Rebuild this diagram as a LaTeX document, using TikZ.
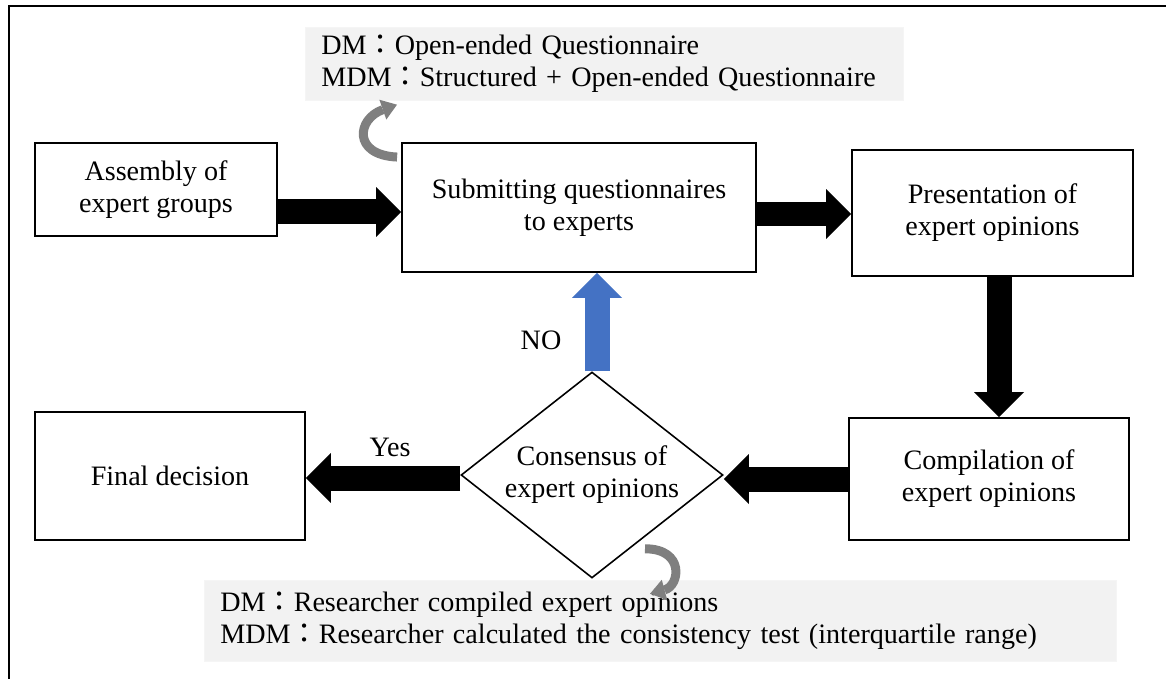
\documentclass[tikz,border=0pt]{standalone}
\usepackage{fontspec}
\setmainfont{Liberation Serif}
\newfontfamily\cjk{Noto Sans CJK TC}
\usetikzlibrary{positioning,shapes.geometric,arrows.meta}

\definecolor{notegray}{HTML}{F2F2F2}
\definecolor{noblue}{HTML}{4472C4}
\definecolor{curlgray}{HTML}{7F7F7F}
\newcommand{\fwcolon}{{\cjk ：}}

\tikzset{
  stage/.style={draw, line width=1.1pt, inner sep=2pt, align=center},
  note/.style={fill=notegray, draw=white!96!black, line width=0.4pt, inner xsep=0.32cm, align=left, anchor=north west},
  fatarrow/.style={line width=0.5cm, -{Triangle[length=0.5cm,width=1.0cm,line width=0pt]}},
  curl/.style={curlgray, line width=0.18cm, -{Triangle[length=0.3cm,width=0.42cm,line width=0pt]}}
}

\begin{document}
\begin{tikzpicture}[x=0.02cm, y=-0.02cm, font=\fontsize{16}{18.2}\selectfont]
    \useasboundingbox (0,0) rectangle (1166,679);
    % outer frame
    \draw[line width=1.7pt] (9,679) |- (1166,6);

    % Define nodes
    \node[stage, minimum width=4.84cm, minimum height=1.86cm] (asm) at (156,189.5) {Assembly of\\expert groups};
    \node[stage, minimum width=7.08cm, minimum height=2.58cm] (sub) at (579,207.5) {Submitting questionnaires\\to experts};
    \node[stage, minimum width=5.62cm, minimum height=2.52cm] (pre) at (992.5,213) {Presentation of\\expert opinions};
    \node[stage, minimum width=5.6cm, minimum height=2.44cm] (cmp) at (989,479) {Compilation of\\expert opinions};
    \node[draw, diamond, line width=0.9pt, aspect=1.27, inner sep=0pt, minimum width=5.24cm, minimum height=4.12cm, align=center] (cns) at (592,475) {Consensus of\\expert opinions};
    \node[stage, minimum width=5.4cm, minimum height=2.56cm] (fin) at (170,476) {Final decision};

    % notes
    \node[note, minimum width=11.96cm, minimum height=1.46cm, text width=11.32cm] (qnote) at (305,27)
      {DM\fwcolon Open-ended Questionnaire\\\mbox{MDM\fwcolon Structured + Open-ended Questionnaire}};
    \node[note, minimum width=18.24cm, minimum height=1.62cm, text width=17.6cm] (rnote) at (204,580)
      {DM\fwcolon Researcher compiled expert opinions\\\mbox{MDM\fwcolon Researcher calculated the consistency test (interquartile range)}};

    % Connect nodes
    \draw[fatarrow] ([yshift=-0.45cm]asm.east) -- ([yshift=-0.45cm]asm.east -| sub.west);
    \draw[fatarrow] ([yshift=-0.13cm]sub.east) -- ([yshift=-0.13cm]sub.east -| pre.west);
    \draw[fatarrow] ([xshift=0.13cm]pre.south) -- ([xshift=0.13cm]pre.south |- cmp.north);
    \draw[fatarrow] (cmp.west) -- (cmp.west -| cns.east);
    \draw[fatarrow] ([yshift=-0.06cm]cns.west) -- ([yshift=-0.06cm]cns.west -| fin.east);
    \draw[fatarrow, noblue] ([xshift=0.1cm]cns.north) -- ([xshift=0.1cm]cns.north |- sub.south);

    \node (no) at (541,340) {NO};
    \node (yes) at (390,447) {Yes};

    % curled arrows
    \coordinate (qs) at ([shift={(-4,15)}]sub.north west);
    \coordinate (qe) at ([shift={(92,4)}]qnote.south west);
    \draw[curl] (qs) .. controls +(-45,-2) and +(-40,14) .. (qe);
    \coordinate (rs) at ([shift={(53,-30)}]cns.south);
    \coordinate (re) at ([shift={(58,15)}]cns.south);
    \draw[curl] (rs) .. controls +(40,0) and +(30,-8) .. (re);
\end{tikzpicture}
\end{document}
